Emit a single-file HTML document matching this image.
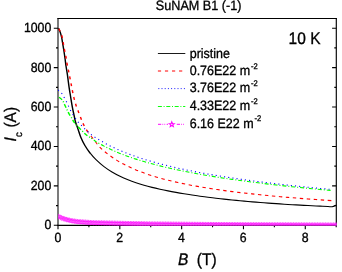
<!DOCTYPE html><html><head><meta charset="utf-8"><style>html,body{margin:0;padding:0;background:#fff;overflow:hidden}body{width:342px;height:272px;position:relative;font-family:"Liberation Sans",sans-serif}</style></head><body><svg width="342" height="272" viewBox="0 0 342 272" style="position:absolute;left:0;top:0;font-family:'Liberation Sans',sans-serif;text-rendering:geometricPrecision;will-change:transform;opacity:0.999">
<rect width="342" height="272" fill="#fff"/>
<defs><clipPath id="cp"><rect x="58.0" y="18" width="279" height="207.75"/></clipPath></defs>
<path d="M57.45 18.50 H336.85" stroke="#000" stroke-width="1.1" fill="none"/>
<path d="M57.45 225.30 H336.85" stroke="#000" stroke-width="1.15" fill="none"/>
<path d="M58.00 18.00 V225.80" stroke="#000" stroke-width="1.04" fill="none"/>
<path d="M336.30 18.00 V225.80" stroke="#000" stroke-width="1.15" fill="none"/>
<path d="M53.80 225.30 h4.20 M332.10 225.30 h4.20 M56.00 205.59 h2.00 M334.30 205.59 h2.00 M53.80 185.88 h4.20 M332.10 185.88 h4.20 M56.00 166.17 h2.00 M334.30 166.17 h2.00 M53.80 146.46 h4.20 M332.10 146.46 h4.20 M56.00 126.75 h2.00 M334.30 126.75 h2.00 M53.80 107.04 h4.20 M332.10 107.04 h4.20 M56.00 87.33 h2.00 M334.30 87.33 h2.00 M53.80 67.62 h4.20 M332.10 67.62 h4.20 M56.00 47.91 h2.00 M334.30 47.91 h2.00 M53.80 28.20 h4.20 M332.10 28.20 h4.20 M58.00 225.30 v4.00 M88.91 225.30 v2.00 M119.82 225.30 v4.00 M150.73 225.30 v2.00 M181.64 225.30 v4.00 M212.55 225.30 v2.00 M243.46 225.30 v4.00 M274.37 225.30 v2.00 M305.28 225.30 v4.00 M336.19 225.30 v2.00" stroke="#000" stroke-width="1.10" fill="none"/>
<g clip-path="url(#cp)" fill="none">
<path d="M58.50 28.40 C58.80 29.07 59.78 30.93 60.30 32.40 C60.82 33.87 61.23 35.52 61.60 37.20 C61.97 38.88 62.15 40.45 62.50 42.50 C62.85 44.55 63.27 46.75 63.70 49.50 C64.13 52.25 64.72 56.25 65.10 59.00 C65.48 61.75 65.62 63.40 66.00 66.00 C66.38 68.60 66.88 71.03 67.40 74.60 C67.92 78.17 68.60 83.92 69.10 87.40 C69.60 90.88 69.85 92.17 70.40 95.50 C70.95 98.83 71.78 104.07 72.40 107.40 C73.02 110.73 73.58 113.07 74.10 115.50 C74.62 117.93 74.88 119.83 75.50 122.00 C76.12 124.17 76.92 125.95 77.80 128.50 C78.68 131.05 79.62 134.47 80.80 137.30 C81.98 140.13 83.33 142.85 84.90 145.50 C86.47 148.15 88.35 150.83 90.20 153.20" stroke="#000" stroke-width="1.43"/>
<path d="M90.20 153.20 C92.05 155.57 93.70 157.49 96.00 159.73 C98.30 161.98 101.33 164.62 104.00 166.67 C106.67 168.72 109.33 170.43 112.00 172.04 C114.67 173.64 117.33 175.02 120.00 176.31 C122.67 177.61 125.33 178.74 128.00 179.81 C130.67 180.87 133.33 181.82 136.00 182.72 C138.67 183.62 141.33 184.44 144.00 185.21 C146.67 185.98 149.33 186.68 152.00 187.35 C154.67 188.03 157.33 188.64 160.00 189.24 C162.67 189.83 165.33 190.38 168.00 190.91 C170.67 191.44 173.33 191.93 176.00 192.41 C178.67 192.89 181.33 193.34 184.00 193.77 C186.67 194.21 189.33 194.62 192.00 195.02 C194.67 195.42 197.33 195.81 200.00 196.17 C202.67 196.54 205.33 196.89 208.00 197.24 C210.67 197.58 213.33 197.90 216.00 198.22 C218.67 198.53 221.33 198.83 224.00 199.12 C226.67 199.42 229.33 199.70 232.00 199.97 C234.67 200.24 237.33 200.50 240.00 200.75 C242.67 201.00 245.33 201.24 248.00 201.48 C250.67 201.71 253.33 201.94 256.00 202.15 C258.67 202.37 261.33 202.58 264.00 202.78 C266.67 202.99 269.33 203.18 272.00 203.37 C274.67 203.56 277.33 203.75 280.00 203.92 C282.67 204.10 285.33 204.27 288.00 204.43 C290.67 204.60 293.33 204.76 296.00 204.91 C298.67 205.07 301.33 205.22 304.00 205.36 C306.67 205.50 309.33 205.64 312.00 205.78 C314.67 205.91 317.33 206.04 320.00 206.17 C322.67 206.29 325.98 206.44 328.00 206.53 C330.02 206.62 330.72 206.95 332.10 206.71 C333.48 206.47 335.60 205.37 336.30 205.10" stroke="#000" stroke-width="1.10"/>
<path d="M58.90 28.80 C59.35 29.83 60.90 32.78 61.60 35.00 C62.30 37.22 62.65 39.78 63.10 42.10 C63.55 44.42 63.85 46.60 64.30 48.90 C64.75 51.20 65.37 53.55 65.80 55.90 C66.23 58.25 66.47 60.62 66.90 63.00 C67.33 65.38 67.92 67.83 68.40 70.20 C68.88 72.57 69.35 74.92 69.80 77.20 C70.25 79.48 70.65 81.58 71.10 83.90 C71.55 86.22 72.02 88.73 72.50 91.10 C72.98 93.47 73.42 95.75 74.00 98.10 C74.58 100.45 75.25 102.90 76.00 105.20 C76.75 107.50 77.63 109.60 78.50 111.90 C79.37 114.20 80.28 116.73 81.20 119.00 C82.12 121.27 82.78 123.20 84.00 125.50 C85.22 127.80 86.87 130.45 88.50 132.80" stroke="#f00" stroke-width="1.43" stroke-dasharray="2.9 4.1" stroke-dashoffset="0.00"/>
<path d="M88.50 132.80 C90.13 135.15 91.88 137.16 93.80 139.60 C95.72 142.04 97.63 145.00 100.00 147.43 C102.37 149.87 105.33 152.18 108.00 154.23 C110.67 156.28 113.33 158.07 116.00 159.75 C118.67 161.43 121.33 162.92 124.00 164.33 C126.67 165.73 129.33 167.00 132.00 168.19 C134.67 169.39 137.33 170.48 140.00 171.52 C142.67 172.55 145.33 173.50 148.00 174.40 C150.67 175.30 153.33 176.14 156.00 176.94 C158.67 177.73 161.33 178.48 164.00 179.19 C166.67 179.90 169.33 180.56 172.00 181.20 C174.67 181.83 177.33 182.43 180.00 183.01 C182.67 183.58 185.33 184.13 188.00 184.65 C190.67 185.17 193.33 185.67 196.00 186.15 C198.67 186.63 201.33 187.08 204.00 187.52 C206.67 187.96 209.33 188.38 212.00 188.79 C214.67 189.20 217.33 189.59 220.00 189.96 C222.67 190.34 225.33 190.70 228.00 191.05 C230.67 191.40 233.33 191.74 236.00 192.07 C238.67 192.40 241.33 192.71 244.00 193.02 C246.67 193.33 249.33 193.62 252.00 193.91 C254.67 194.20 257.33 194.48 260.00 194.75 C262.67 195.03 265.33 195.29 268.00 195.55 C270.67 195.81 273.33 196.06 276.00 196.30 C278.67 196.55 281.33 196.78 284.00 197.02 C286.67 197.25 289.33 197.47 292.00 197.70 C294.67 197.92 297.33 198.13 300.00 198.34 C302.67 198.55 305.33 198.76 308.00 198.96 C310.67 199.17 313.33 199.36 316.00 199.56 C318.67 199.75 321.33 199.94 324.00 200.12 C326.67 200.31 330.58 200.57 332.00 200.67 C333.42 200.77 332.42 200.70 332.50 200.70" stroke="#f00" stroke-width="1.10" stroke-dasharray="3.4 3.6" stroke-dashoffset="2.90"/>
<path d="M58.08 90.04 l0.84 0.71 M61.51 92.96 l0.64 0.89 M63.91 97.07 l0.54 0.96 M66.23 101.25 l0.48 0.99 M68.26 105.63 l0.46 1.00 M70.33 109.97 l0.52 0.97 M72.68 114.11 l0.57 0.94 M75.24 118.07 l0.63 0.90 M77.96 121.86 l0.70 0.85 M81.08 125.19 l0.78 0.77 M84.28 128.42 l0.77 0.78 M87.56 131.54 l0.83 0.72 M91.00 134.40 l0.87 0.67 M94.57 137.01 l0.92 0.61 M98.28 139.34 l0.95 0.56 M102.05 141.53 l0.95 0.55 M105.85 143.67 l0.97 0.53 M109.69 145.69 l0.98 0.49 M113.57 147.59 l1.00 0.47 M117.49 149.38 l1.01 0.44 M121.44 151.08 l1.02 0.42 M125.41 152.69 l1.02 0.40 M129.41 154.23 l1.03 0.38 M133.43 155.69 l1.04 0.37 M137.46 157.08 l1.04 0.35 M141.51 158.41 l1.05 0.33 M145.57 159.68 l1.05 0.32 M149.64 160.90 l1.06 0.31 M153.73 162.07 l1.06 0.29 M157.82 163.19 l1.06 0.28 M161.92 164.27 l1.07 0.27 M166.03 165.31 l1.07 0.26 M170.14 166.31 l1.07 0.25 M174.26 167.27 l1.07 0.25 M178.39 168.20 l1.07 0.24 M182.52 169.10 l1.08 0.23 M186.66 169.97 l1.08 0.22 M190.79 170.82 l1.08 0.21 M194.94 171.63 l1.08 0.21 M199.09 172.42 l1.08 0.20 M203.24 173.19 l1.08 0.20 M207.39 173.94 l1.08 0.19 M211.54 174.66 l1.08 0.19 M215.70 175.36 l1.09 0.18 M219.86 176.05 l1.09 0.18 M224.03 176.71 l1.09 0.17 M228.19 177.36 l1.09 0.17 M232.36 177.99 l1.09 0.16 M236.52 178.61 l1.09 0.16 M240.69 179.21 l1.09 0.15 M244.86 179.80 l1.09 0.15 M249.04 180.37 l1.09 0.15 M253.21 180.93 l1.09 0.14 M257.38 181.47 l1.09 0.14 M261.56 182.01 l1.09 0.14 M265.74 182.53 l1.09 0.13 M269.92 183.04 l1.09 0.13 M274.09 183.54 l1.09 0.13 M278.27 184.03 l1.09 0.13 M282.45 184.51 l1.09 0.12 M286.64 184.98 l1.09 0.12 M290.82 185.44 l1.09 0.12 M295.00 185.89 l1.09 0.12 M299.18 186.33 l1.09 0.11 M303.37 186.77 l1.09 0.11 M307.55 187.20 l1.09 0.11 M311.74 187.61 l1.09 0.11 M315.92 188.02 l1.09 0.11 M320.11 188.43 l1.10 0.10 M324.30 188.82 l1.10 0.10 M328.48 189.21 l1.10 0.10" stroke="#00f" stroke-width="1.10" stroke-linecap="butt"/>
<path d="M59.00 97.20 C59.58 97.72 61.52 98.95 62.50 100.30 C63.48 101.65 64.17 103.77 64.90 105.30 C65.63 106.83 66.25 108.17 66.90 109.50 C67.55 110.83 68.03 111.93 68.80 113.30 C69.57 114.67 70.57 116.15 71.50 117.70 C72.43 119.25 73.33 121.10 74.40 122.60 C75.47 124.10 76.63 125.33 77.90 126.70 C79.17 128.07 80.63 129.47 82.00 130.80 C83.37 132.13 84.63 133.52 86.10 134.70 C87.57 135.88 89.33 136.88 90.80 137.90" stroke="#0f0" stroke-width="1.43" stroke-dasharray="4 2 1 1.9" stroke-dashoffset="0.00"/>
<path d="M90.80 137.90 C92.27 138.92 94.03 140.18 94.90 140.80 C95.77 141.42 94.48 140.73 96.00 141.62 C97.52 142.51 101.33 144.73 104.00 146.13 C106.67 147.53 109.33 148.80 112.00 150.01 C114.67 151.22 117.33 152.34 120.00 153.40 C122.67 154.47 125.33 155.47 128.00 156.42 C130.67 157.37 133.33 158.27 136.00 159.13 C138.67 159.99 141.33 160.80 144.00 161.59 C146.67 162.37 149.33 163.11 152.00 163.83 C154.67 164.55 157.33 165.23 160.00 165.89 C162.67 166.56 165.33 167.19 168.00 167.80 C170.67 168.42 173.33 169.01 176.00 169.58 C178.67 170.15 181.33 170.70 184.00 171.24 C186.67 171.77 189.33 172.29 192.00 172.79 C194.67 173.29 197.33 173.78 200.00 174.25 C202.67 174.73 205.33 175.19 208.00 175.63 C210.67 176.08 213.33 176.51 216.00 176.94 C218.67 177.36 221.33 177.77 224.00 178.18 C226.67 178.58 229.33 178.97 232.00 179.35 C234.67 179.74 237.33 180.11 240.00 180.48 C242.67 180.84 245.33 181.20 248.00 181.55 C250.67 181.90 253.33 182.24 256.00 182.57 C258.67 182.90 261.33 183.23 264.00 183.55 C266.67 183.87 269.33 184.19 272.00 184.49 C274.67 184.80 277.33 185.10 280.00 185.40 C282.67 185.69 285.33 185.98 288.00 186.27 C290.67 186.55 293.33 186.83 296.00 187.11 C298.67 187.38 301.33 187.65 304.00 187.92 C306.67 188.18 309.33 188.44 312.00 188.70 C314.67 188.95 317.33 189.20 320.00 189.45 C322.67 189.70 325.92 189.99 328.00 190.18 C330.08 190.37 331.75 190.51 332.50 190.58" stroke="#0f0" stroke-width="1.10" stroke-dasharray="4 2 1 1.9" stroke-dashoffset="5.60"/>
<path d="M58.50 216.30 C59.08 216.58 60.62 217.47 62.00 218.00 C63.38 218.53 65.13 219.05 66.80 219.50 C68.47 219.95 70.05 220.35 72.00 220.70 C73.95 221.05 74.87 221.27 78.50 221.60 C82.13 221.93 88.55 222.42 93.80 222.65 C99.05 222.88 100.63 222.79 110.00 223.00 C119.37 223.21 135.00 223.68 150.00 223.90 C165.00 224.12 184.17 224.18 200.00 224.30 C215.83 224.43 222.25 224.53 245.00 224.65 C267.75 224.77 321.25 224.94 336.50 225.00" stroke="#f0f" stroke-width="0.6"/>
<g stroke="#f0f" stroke-width="0.55" fill="#fff" fill-opacity="0.22"><polygon points="58.30,213.90 58.92,215.65 60.77,215.70 59.30,216.82 59.83,218.60 58.30,217.55 56.77,218.60 57.30,216.82 55.83,215.70 57.68,215.65"/><polygon points="59.90,214.58 60.52,216.33 62.37,216.38 60.90,217.50 61.43,219.28 59.90,218.23 58.37,219.28 58.90,217.50 57.43,216.38 59.28,216.33"/><polygon points="61.50,215.36 62.12,217.11 63.97,217.15 62.50,218.28 63.03,220.06 61.50,219.01 59.97,220.06 60.50,218.28 59.03,217.15 60.88,217.11"/><polygon points="63.10,215.94 63.72,217.69 65.57,217.74 64.10,218.87 64.63,220.65 63.10,219.59 61.57,220.65 62.10,218.87 60.63,217.74 62.48,217.69"/><polygon points="64.70,216.44 65.32,218.19 67.17,218.24 65.70,219.37 66.23,221.15 64.70,220.09 63.17,221.15 63.70,219.37 62.23,218.24 64.08,218.19"/><polygon points="66.30,216.94 66.92,218.69 68.77,218.74 67.30,219.87 67.83,221.65 66.30,220.59 64.77,221.65 65.30,219.87 63.83,218.74 65.68,218.69"/><polygon points="67.90,217.35 68.52,219.10 70.37,219.15 68.90,220.28 69.43,222.06 67.90,221.00 66.37,222.06 66.90,220.28 65.43,219.15 67.28,219.10"/><polygon points="69.50,217.72 70.12,219.47 71.97,219.52 70.50,220.65 71.03,222.43 69.50,221.37 67.97,222.43 68.50,220.65 67.03,219.52 68.88,219.47"/><polygon points="71.10,218.09 71.72,219.84 73.57,219.89 72.10,221.02 72.63,222.80 71.10,221.74 69.57,222.80 70.10,221.02 68.63,219.89 70.48,219.84"/><polygon points="72.70,218.40 73.32,220.15 75.17,220.19 73.70,221.32 74.23,223.10 72.70,222.05 71.17,223.10 71.70,221.32 70.23,220.19 72.08,220.15"/><polygon points="74.30,218.62 74.92,220.37 76.77,220.42 75.30,221.54 75.83,223.32 74.30,222.27 72.77,223.32 73.30,221.54 71.83,220.42 73.68,220.37"/><polygon points="75.90,218.84 76.52,220.59 78.37,220.64 76.90,221.76 77.43,223.54 75.90,222.49 74.37,223.54 74.90,221.76 73.43,220.64 75.28,220.59"/><polygon points="77.50,219.06 78.12,220.81 79.97,220.86 78.50,221.99 79.03,223.76 77.50,222.71 75.97,223.76 76.50,221.99 75.03,220.86 76.88,220.81"/><polygon points="79.10,219.24 79.72,220.99 81.57,221.04 80.10,222.17 80.63,223.94 79.10,222.89 77.57,223.94 78.10,222.17 76.63,221.04 78.48,220.99"/><polygon points="80.70,219.35 81.32,221.10 83.17,221.15 81.70,222.28 82.23,224.05 80.70,223.00 79.17,224.05 79.70,222.28 78.23,221.15 80.08,221.10"/><polygon points="82.30,219.46 82.92,221.21 84.77,221.26 83.30,222.39 83.83,224.16 82.30,223.11 80.77,224.16 81.30,222.39 79.83,221.26 81.68,221.21"/><polygon points="83.90,219.57 84.52,221.32 86.37,221.37 84.90,222.50 85.43,224.27 83.90,223.22 82.37,224.27 82.90,222.50 81.43,221.37 83.28,221.32"/><polygon points="85.50,219.68 86.12,221.43 87.97,221.48 86.50,222.60 87.03,224.38 85.50,223.33 83.97,224.38 84.50,222.60 83.03,221.48 84.88,221.43"/><polygon points="87.10,219.79 87.72,221.54 89.57,221.59 88.10,222.71 88.63,224.49 87.10,223.44 85.57,224.49 86.10,222.71 84.63,221.59 86.48,221.54"/><polygon points="88.70,219.90 89.32,221.65 91.17,221.70 89.70,222.82 90.23,224.60 88.70,223.55 87.17,224.60 87.70,222.82 86.23,221.70 88.08,221.65"/><polygon points="90.30,220.01 90.92,221.76 92.77,221.81 91.30,222.93 91.83,224.71 90.30,223.66 88.77,224.71 89.30,222.93 87.83,221.81 89.68,221.76"/><polygon points="91.90,220.12 92.52,221.87 94.37,221.92 92.90,223.04 93.43,224.82 91.90,223.77 90.37,224.82 90.90,223.04 89.43,221.92 91.28,221.87"/><polygon points="93.50,220.23 94.12,221.98 95.97,222.03 94.50,223.15 95.03,224.93 93.50,223.88 91.97,224.93 92.50,223.15 91.03,222.03 92.88,221.98"/><polygon points="95.10,220.28 95.72,222.03 97.57,222.07 96.10,223.20 96.63,224.98 95.10,223.93 93.57,224.98 94.10,223.20 92.63,222.07 94.48,222.03"/><polygon points="96.70,220.31 97.32,222.06 99.17,222.11 97.70,223.24 98.23,225.02 96.70,223.96 95.17,225.02 95.70,223.24 94.23,222.11 96.08,222.06"/><polygon points="98.30,220.35 98.92,222.10 100.77,222.14 99.30,223.27 99.83,225.05 98.30,224.00 96.77,225.05 97.30,223.27 95.83,222.14 97.68,222.10"/><polygon points="99.90,220.38 100.52,222.13 102.37,222.18 100.90,223.31 101.43,225.09 99.90,224.03 98.37,225.09 98.90,223.31 97.43,222.18 99.28,222.13"/><polygon points="101.50,220.42 102.12,222.17 103.97,222.21 102.50,223.34 103.03,225.12 101.50,224.07 99.97,225.12 100.50,223.34 99.03,222.21 100.88,222.17"/><polygon points="103.10,220.45 103.72,222.20 105.57,222.25 104.10,223.38 104.63,225.15 103.10,224.10 101.57,225.15 102.10,223.38 100.63,222.25 102.48,222.20"/><polygon points="104.70,220.49 105.32,222.24 107.17,222.28 105.70,223.41 106.23,225.19 104.70,224.14 103.17,225.19 103.70,223.41 102.23,222.28 104.08,222.24"/><polygon points="106.30,220.52 106.92,222.27 108.77,222.32 107.30,223.44 107.83,225.22 106.30,224.17 104.77,225.22 105.30,223.44 103.83,222.32 105.68,222.27"/><polygon points="107.90,220.55 108.52,222.31 110.37,222.35 108.90,223.48 109.43,225.26 107.90,224.20 106.37,225.26 106.90,223.48 105.43,222.35 107.28,222.31"/><polygon points="109.50,220.59 110.12,222.34 111.97,222.39 110.50,223.51 111.03,225.29 109.50,224.24 107.97,225.29 108.50,223.51 107.03,222.39 108.88,222.34"/><polygon points="111.10,220.62 111.72,222.38 113.57,222.42 112.10,223.55 112.63,225.33 111.10,224.27 109.57,225.33 110.10,223.55 108.63,222.42 110.48,222.38"/><polygon points="112.70,220.66 113.32,222.41 115.17,222.46 113.70,223.59 114.23,225.36 112.70,224.31 111.17,225.36 111.70,223.59 110.23,222.46 112.08,222.41"/><polygon points="114.30,220.70 114.92,222.45 116.77,222.49 115.30,223.62 115.83,225.40 114.30,224.35 112.77,225.40 113.30,223.62 111.83,222.49 113.68,222.45"/><polygon points="115.90,220.73 116.52,222.48 118.37,222.53 116.90,223.66 117.43,225.44 115.90,224.38 114.37,225.44 114.90,223.66 113.43,222.53 115.28,222.48"/><polygon points="117.50,220.77 118.12,222.52 119.97,222.57 118.50,223.69 119.03,225.47 117.50,224.42 115.97,225.47 116.50,223.69 115.03,222.57 116.88,222.52"/><polygon points="119.10,220.80 119.72,222.56 121.57,222.60 120.10,223.73 120.63,225.51 119.10,224.45 117.57,225.51 118.10,223.73 116.63,222.60 118.48,222.56"/><polygon points="120.70,220.84 121.32,222.59 123.17,222.64 121.70,223.77 122.23,225.54 120.70,224.49 119.17,225.54 119.70,223.77 118.23,222.64 120.08,222.59"/><polygon points="122.30,220.88 122.92,222.63 124.77,222.67 123.30,223.80 123.83,225.58 122.30,224.53 120.77,225.58 121.30,223.80 119.83,222.67 121.68,222.63"/><polygon points="123.90,220.91 124.52,222.66 126.37,222.71 124.90,223.84 125.43,225.62 123.90,224.56 122.37,225.62 122.90,223.84 121.43,222.71 123.28,222.66"/><polygon points="125.50,220.95 126.12,222.70 127.97,222.75 126.50,223.87 127.03,225.65 125.50,224.60 123.97,225.65 124.50,223.87 123.03,222.75 124.88,222.70"/><polygon points="127.10,220.98 127.72,222.74 129.57,222.78 128.10,223.91 128.63,225.69 127.10,224.63 125.57,225.69 126.10,223.91 124.63,222.78 126.48,222.74"/><polygon points="128.70,221.02 129.32,222.77 131.17,222.82 129.70,223.95 130.23,225.72 128.70,224.67 127.17,225.72 127.70,223.95 126.23,222.82 128.08,222.77"/><polygon points="130.30,221.06 130.92,222.81 132.77,222.85 131.30,223.98 131.83,225.76 130.30,224.71 128.77,225.76 129.30,223.98 127.83,222.85 129.68,222.81"/><polygon points="131.90,221.09 132.52,222.84 134.37,222.89 132.90,224.02 133.43,225.80 131.90,224.74 130.37,225.80 130.90,224.02 129.43,222.89 131.28,222.84"/><polygon points="133.50,221.13 134.12,222.88 135.97,222.93 134.50,224.05 135.03,225.83 133.50,224.78 131.97,225.83 132.50,224.05 131.03,222.93 132.88,222.88"/><polygon points="135.10,221.16 135.72,222.92 137.57,222.96 136.10,224.09 136.63,225.87 135.10,224.81 133.57,225.87 134.10,224.09 132.63,222.96 134.48,222.92"/><polygon points="136.70,221.20 137.32,222.95 139.17,223.00 137.70,224.13 138.23,225.90 136.70,224.85 135.17,225.90 135.70,224.13 134.23,223.00 136.08,222.95"/><polygon points="138.30,221.24 138.92,222.99 140.77,223.03 139.30,224.16 139.83,225.94 138.30,224.89 136.77,225.94 137.30,224.16 135.83,223.03 137.68,222.99"/><polygon points="139.90,221.27 140.52,223.02 142.37,223.07 140.90,224.20 141.43,225.98 139.90,224.92 138.37,225.98 138.90,224.20 137.43,223.07 139.28,223.02"/><polygon points="141.50,221.31 142.12,223.06 143.97,223.11 142.50,224.23 143.03,226.01 141.50,224.96 139.97,226.01 140.50,224.23 139.03,223.11 140.88,223.06"/><polygon points="143.10,221.34 143.72,223.10 145.57,223.14 144.10,224.27 144.63,226.05 143.10,224.99 141.57,226.05 142.10,224.27 140.63,223.14 142.48,223.10"/><polygon points="144.70,221.38 145.32,223.13 147.17,223.18 145.70,224.31 146.23,226.08 144.70,225.03 143.17,226.08 143.70,224.31 142.23,223.18 144.08,223.13"/><polygon points="146.30,221.42 146.92,223.17 148.77,223.21 147.30,224.34 147.83,226.12 146.30,225.07 144.77,226.12 145.30,224.34 143.83,223.21 145.68,223.17"/><polygon points="147.90,221.45 148.52,223.20 150.37,223.25 148.90,224.38 149.43,226.16 147.90,225.10 146.37,226.16 146.90,224.38 145.43,223.25 147.28,223.20"/><polygon points="149.50,221.49 150.12,223.24 151.97,223.29 150.50,224.41 151.03,226.19 149.50,225.14 147.97,226.19 148.50,224.41 147.03,223.29 148.88,223.24"/><polygon points="151.10,221.51 151.72,223.26 153.57,223.31 152.10,224.43 152.63,226.21 151.10,225.16 149.57,226.21 150.10,224.43 148.63,223.31 150.48,223.26"/><polygon points="152.70,221.52 153.32,223.27 155.17,223.32 153.70,224.45 154.23,226.23 152.70,225.17 151.17,226.23 151.70,224.45 150.23,223.32 152.08,223.27"/><polygon points="154.30,221.53 154.92,223.28 156.77,223.33 155.30,224.46 155.83,226.24 154.30,225.18 152.77,226.24 153.30,224.46 151.83,223.33 153.68,223.28"/><polygon points="155.90,221.55 156.52,223.30 158.37,223.34 156.90,224.47 157.43,226.25 155.90,225.20 154.37,226.25 154.90,224.47 153.43,223.34 155.28,223.30"/><polygon points="157.50,221.56 158.12,223.31 159.97,223.36 158.50,224.48 159.03,226.26 157.50,225.21 155.97,226.26 156.50,224.48 155.03,223.36 156.88,223.31"/><polygon points="159.10,221.57 159.72,223.32 161.57,223.37 160.10,224.50 160.63,226.28 159.10,225.22 157.57,226.28 158.10,224.50 156.63,223.37 158.48,223.32"/><polygon points="160.70,221.59 161.32,223.34 163.17,223.38 161.70,224.51 162.23,226.29 160.70,225.24 159.17,226.29 159.70,224.51 158.23,223.38 160.08,223.34"/><polygon points="162.30,221.60 162.92,223.35 164.77,223.39 163.30,224.52 163.83,226.30 162.30,225.25 160.77,226.30 161.30,224.52 159.83,223.39 161.68,223.35"/><polygon points="163.90,221.61 164.52,223.36 166.37,223.41 164.90,224.54 165.43,226.31 163.90,225.26 162.37,226.31 162.90,224.54 161.43,223.41 163.28,223.36"/><polygon points="165.50,221.62 166.12,223.37 167.97,223.42 166.50,224.55 167.03,226.33 165.50,225.27 163.97,226.33 164.50,224.55 163.03,223.42 164.88,223.37"/><polygon points="167.10,221.64 167.72,223.39 169.57,223.43 168.10,224.56 168.63,226.34 167.10,225.29 165.57,226.34 166.10,224.56 164.63,223.43 166.48,223.39"/><polygon points="168.70,221.65 169.32,223.40 171.17,223.45 169.70,224.57 170.23,226.35 168.70,225.30 167.17,226.35 167.70,224.57 166.23,223.45 168.08,223.40"/><polygon points="170.30,221.66 170.92,223.41 172.77,223.46 171.30,224.59 171.83,226.37 170.30,225.31 168.77,226.37 169.30,224.59 167.83,223.46 169.68,223.41"/><polygon points="171.90,221.68 172.52,223.43 174.37,223.47 172.90,224.60 173.43,226.38 171.90,225.33 170.37,226.38 170.90,224.60 169.43,223.47 171.28,223.43"/><polygon points="173.50,221.69 174.12,223.44 175.97,223.48 174.50,224.61 175.03,226.39 173.50,225.34 171.97,226.39 172.50,224.61 171.03,223.48 172.88,223.44"/><polygon points="175.10,221.70 175.72,223.45 177.57,223.50 176.10,224.63 176.63,226.40 175.10,225.35 173.57,226.40 174.10,224.63 172.63,223.50 174.48,223.45"/><polygon points="176.70,221.71 177.32,223.46 179.17,223.51 177.70,224.64 178.23,226.42 176.70,225.36 175.17,226.42 175.70,224.64 174.23,223.51 176.08,223.46"/><polygon points="178.30,221.73 178.92,223.48 180.77,223.52 179.30,224.65 179.83,226.43 178.30,225.38 176.77,226.43 177.30,224.65 175.83,223.52 177.68,223.48"/><polygon points="179.90,221.74 180.52,223.49 182.37,223.54 180.90,224.66 181.43,226.44 179.90,225.39 178.37,226.44 178.90,224.66 177.43,223.54 179.28,223.49"/><polygon points="181.50,221.75 182.12,223.50 183.97,223.55 182.50,224.68 183.03,226.46 181.50,225.40 179.97,226.46 180.50,224.68 179.03,223.55 180.88,223.50"/><polygon points="183.10,221.76 183.72,223.52 185.57,223.56 184.10,224.69 184.63,226.47 183.10,225.41 181.57,226.47 182.10,224.69 180.63,223.56 182.48,223.52"/><polygon points="184.70,221.78 185.32,223.53 187.17,223.57 185.70,224.70 186.23,226.48 184.70,225.43 183.17,226.48 183.70,224.70 182.23,223.57 184.08,223.53"/><polygon points="186.30,221.79 186.92,223.54 188.77,223.59 187.30,224.71 187.83,226.49 186.30,225.44 184.77,226.49 185.30,224.71 183.83,223.59 185.68,223.54"/><polygon points="187.90,221.80 188.52,223.55 190.37,223.60 188.90,224.73 189.43,226.51 187.90,225.45 186.37,226.51 186.90,224.73 185.43,223.60 187.28,223.55"/><polygon points="189.50,221.82 190.12,223.57 191.97,223.61 190.50,224.74 191.03,226.52 189.50,225.47 187.97,226.52 188.50,224.74 187.03,223.61 188.88,223.57"/><polygon points="191.10,221.83 191.72,223.58 193.57,223.63 192.10,224.75 192.63,226.53 191.10,225.48 189.57,226.53 190.10,224.75 188.63,223.63 190.48,223.58"/><polygon points="192.70,221.84 193.32,223.59 195.17,223.64 193.70,224.77 194.23,226.55 192.70,225.49 191.17,226.55 191.70,224.77 190.23,223.64 192.08,223.59"/><polygon points="194.30,221.85 194.92,223.60 196.77,223.65 195.30,224.78 195.83,226.56 194.30,225.50 192.77,226.56 193.30,224.78 191.83,223.65 193.68,223.60"/><polygon points="195.90,221.87 196.52,223.62 198.37,223.66 196.90,224.79 197.43,226.57 195.90,225.52 194.37,226.57 194.90,224.79 193.43,223.66 195.28,223.62"/><polygon points="197.50,221.88 198.12,223.63 199.97,223.68 198.50,224.80 199.03,226.58 197.50,225.53 195.97,226.58 196.50,224.80 195.03,223.68 196.88,223.63"/><polygon points="199.10,221.89 199.72,223.64 201.57,223.69 200.10,224.82 200.63,226.60 199.10,225.54 197.57,226.60 198.10,224.82 196.63,223.69 198.48,223.64"/><polygon points="200.70,221.91 201.32,223.66 203.17,223.70 201.70,224.83 202.23,226.61 200.70,225.56 199.17,226.61 199.70,224.83 198.23,223.70 200.08,223.66"/><polygon points="202.30,221.92 202.92,223.67 204.77,223.71 203.30,224.84 203.83,226.62 202.30,225.57 200.77,226.62 201.30,224.84 199.83,223.71 201.68,223.67"/><polygon points="203.90,221.93 204.52,223.68 206.37,223.73 204.90,224.85 205.43,226.63 203.90,225.58 202.37,226.63 202.90,224.85 201.43,223.73 203.28,223.68"/><polygon points="205.50,221.94 206.12,223.69 207.97,223.74 206.50,224.87 207.03,226.65 205.50,225.59 203.97,226.65 204.50,224.87 203.03,223.74 204.88,223.69"/><polygon points="207.10,221.96 207.72,223.71 209.57,223.75 208.10,224.88 208.63,226.66 207.10,225.61 205.57,226.66 206.10,224.88 204.63,223.75 206.48,223.71"/><polygon points="208.70,221.97 209.32,223.72 211.17,223.76 209.70,224.89 210.23,226.67 208.70,225.62 207.17,226.67 207.70,224.89 206.23,223.76 208.08,223.72"/><polygon points="210.30,221.98 210.92,223.73 212.77,223.78 211.30,224.90 211.83,226.68 210.30,225.63 208.77,226.68 209.30,224.90 207.83,223.78 209.68,223.73"/><polygon points="211.90,221.99 212.52,223.74 214.37,223.79 212.90,224.92 213.43,226.70 211.90,225.64 210.37,226.70 210.90,224.92 209.43,223.79 211.28,223.74"/><polygon points="213.50,222.00 214.12,223.76 215.97,223.80 214.50,224.93 215.03,226.71 213.50,225.66 211.97,226.71 212.50,224.93 211.03,223.80 212.88,223.76"/><polygon points="215.10,222.02 215.72,223.77 217.57,223.81 216.10,224.94 216.63,226.72 215.10,225.67 213.57,226.72 214.10,224.94 212.63,223.81 214.48,223.77"/><polygon points="216.70,222.03 217.32,223.78 219.17,223.83 217.70,224.95 218.23,226.73 216.70,225.68 215.17,226.73 215.70,224.95 214.23,223.83 216.08,223.78"/><polygon points="218.30,222.04 218.92,223.79 220.77,223.84 219.30,224.97 219.83,226.75 218.30,225.69 216.77,226.75 217.30,224.97 215.83,223.84 217.68,223.79"/><polygon points="219.90,222.05 220.52,223.81 222.37,223.85 220.90,224.98 221.43,226.76 219.90,225.70 218.37,226.76 218.90,224.98 217.43,223.85 219.28,223.81"/><polygon points="221.50,222.07 222.12,223.82 223.97,223.86 222.50,224.99 223.03,226.77 221.50,225.72 219.97,226.77 220.50,224.99 219.03,223.86 220.88,223.82"/><polygon points="223.10,222.08 223.72,223.83 225.57,223.88 224.10,225.00 224.63,226.78 223.10,225.73 221.57,226.78 222.10,225.00 220.63,223.88 222.48,223.83"/><polygon points="224.70,222.09 225.32,223.84 227.17,223.89 225.70,225.02 226.23,226.80 224.70,225.74 223.17,226.80 223.70,225.02 222.23,223.89 224.08,223.84"/><polygon points="226.30,222.10 226.92,223.86 228.77,223.90 227.30,225.03 227.83,226.81 226.30,225.75 224.77,226.81 225.30,225.03 223.83,223.90 225.68,223.86"/><polygon points="227.90,222.12 228.52,223.87 230.37,223.91 228.90,225.04 229.43,226.82 227.90,225.77 226.37,226.82 226.90,225.04 225.43,223.91 227.28,223.87"/><polygon points="229.50,222.13 230.12,223.88 231.97,223.93 230.50,225.05 231.03,226.83 229.50,225.78 227.97,226.83 228.50,225.05 227.03,223.93 228.88,223.88"/><polygon points="231.10,222.14 231.72,223.89 233.57,223.94 232.10,225.07 232.63,226.85 231.10,225.79 229.57,226.85 230.10,225.07 228.63,223.94 230.48,223.89"/><polygon points="232.70,222.15 233.32,223.90 235.17,223.95 233.70,225.08 234.23,226.86 232.70,225.80 231.17,226.86 231.70,225.08 230.23,223.95 232.08,223.90"/><polygon points="234.30,222.17 234.92,223.92 236.77,223.96 235.30,225.09 235.83,226.87 234.30,225.82 232.77,226.87 233.30,225.09 231.83,223.96 233.68,223.92"/><polygon points="235.90,222.18 236.52,223.93 238.37,223.98 236.90,225.10 237.43,226.88 235.90,225.83 234.37,226.88 234.90,225.10 233.43,223.98 235.28,223.93"/><polygon points="237.50,222.19 238.12,223.94 239.97,223.99 238.50,225.12 239.03,226.90 237.50,225.84 235.97,226.90 236.50,225.12 235.03,223.99 236.88,223.94"/><polygon points="239.10,222.20 239.72,223.95 241.57,224.00 240.10,225.13 240.63,226.91 239.10,225.85 237.57,226.91 238.10,225.13 236.63,224.00 238.48,223.95"/><polygon points="240.70,222.22 241.32,223.97 243.17,224.01 241.70,225.14 242.23,226.92 240.70,225.87 239.17,226.92 239.70,225.14 238.23,224.01 240.08,223.97"/><polygon points="242.30,222.23 242.92,223.98 244.77,224.03 243.30,225.15 243.83,226.93 242.30,225.88 240.77,226.93 241.30,225.15 239.83,224.03 241.68,223.98"/><polygon points="243.90,222.24 244.52,223.99 246.37,224.04 244.90,225.17 245.43,226.94 243.90,225.89 242.37,226.94 242.90,225.17 241.43,224.04 243.28,223.99"/><polygon points="245.50,222.25 246.12,224.00 247.97,224.05 246.50,225.18 247.03,226.96 245.50,225.90 243.97,226.96 244.50,225.18 243.03,224.05 244.88,224.00"/><polygon points="247.10,222.26 247.72,224.01 249.57,224.05 248.10,225.18 248.63,226.96 247.10,225.91 245.57,226.96 246.10,225.18 244.63,224.05 246.48,224.01"/><polygon points="248.70,222.26 249.32,224.01 251.17,224.06 249.70,225.19 250.23,226.97 248.70,225.91 247.17,226.97 247.70,225.19 246.23,224.06 248.08,224.01"/><polygon points="250.30,222.27 250.92,224.02 252.77,224.07 251.30,225.19 251.83,226.97 250.30,225.92 248.77,226.97 249.30,225.19 247.83,224.07 249.68,224.02"/><polygon points="251.90,222.28 252.52,224.03 254.37,224.07 252.90,225.20 253.43,226.98 251.90,225.93 250.37,226.98 250.90,225.20 249.43,224.07 251.28,224.03"/><polygon points="253.50,222.28 254.12,224.03 255.97,224.08 254.50,225.21 255.03,226.99 253.50,225.93 251.97,226.99 252.50,225.21 251.03,224.08 252.88,224.03"/><polygon points="255.10,222.29 255.72,224.04 257.57,224.09 256.10,225.21 256.63,226.99 255.10,225.94 253.57,226.99 254.10,225.21 252.63,224.09 254.48,224.04"/><polygon points="256.70,222.29 257.32,224.05 259.17,224.09 257.70,225.22 258.23,227.00 256.70,225.94 255.17,227.00 255.70,225.22 254.23,224.09 256.08,224.05"/><polygon points="258.30,222.30 258.92,224.05 260.77,224.10 259.30,225.23 259.83,227.00 258.30,225.95 256.77,227.00 257.30,225.23 255.83,224.10 257.68,224.05"/><polygon points="259.90,222.31 260.52,224.06 262.37,224.10 260.90,225.23 261.43,227.01 259.90,225.96 258.37,227.01 258.90,225.23 257.43,224.10 259.28,224.06"/><polygon points="261.50,222.31 262.12,224.06 263.97,224.11 262.50,225.24 263.03,227.02 261.50,225.96 259.97,227.02 260.50,225.24 259.03,224.11 260.88,224.06"/><polygon points="263.10,222.32 263.72,224.07 265.57,224.12 264.10,225.24 264.63,227.02 263.10,225.97 261.57,227.02 262.10,225.24 260.63,224.12 262.48,224.07"/><polygon points="264.70,222.33 265.32,224.08 267.17,224.12 265.70,225.25 266.23,227.03 264.70,225.98 263.17,227.03 263.70,225.25 262.23,224.12 264.08,224.08"/><polygon points="266.30,222.33 266.92,224.08 268.77,224.13 267.30,225.26 267.83,227.03 266.30,225.98 264.77,227.03 265.30,225.26 263.83,224.13 265.68,224.08"/><polygon points="267.90,222.34 268.52,224.09 270.37,224.13 268.90,225.26 269.43,227.04 267.90,225.99 266.37,227.04 266.90,225.26 265.43,224.13 267.28,224.09"/><polygon points="269.50,222.34 270.12,224.09 271.97,224.14 270.50,225.27 271.03,227.05 269.50,225.99 267.97,227.05 268.50,225.27 267.03,224.14 268.88,224.09"/><polygon points="271.10,222.35 271.72,224.10 273.57,224.15 272.10,225.27 272.63,227.05 271.10,226.00 269.57,227.05 270.10,225.27 268.63,224.15 270.48,224.10"/><polygon points="272.70,222.36 273.32,224.11 275.17,224.15 273.70,225.28 274.23,227.06 272.70,226.01 271.17,227.06 271.70,225.28 270.23,224.15 272.08,224.11"/><polygon points="274.30,222.36 274.92,224.11 276.77,224.16 275.30,225.29 275.83,227.07 274.30,226.01 272.77,227.07 273.30,225.29 271.83,224.16 273.68,224.11"/><polygon points="275.90,222.37 276.52,224.12 278.37,224.16 276.90,225.29 277.43,227.07 275.90,226.02 274.37,227.07 274.90,225.29 273.43,224.16 275.28,224.12"/><polygon points="277.50,222.37 278.12,224.12 279.97,224.17 278.50,225.30 279.03,227.08 277.50,226.02 275.97,227.08 276.50,225.30 275.03,224.17 276.88,224.12"/><polygon points="279.10,222.38 279.72,224.13 281.57,224.18 280.10,225.30 280.63,227.08 279.10,226.03 277.57,227.08 278.10,225.30 276.63,224.18 278.48,224.13"/><polygon points="280.70,222.39 281.32,224.14 283.17,224.18 281.70,225.31 282.23,227.09 280.70,226.04 279.17,227.09 279.70,225.31 278.23,224.18 280.08,224.14"/><polygon points="282.30,222.39 282.92,224.14 284.77,224.19 283.30,225.32 283.83,227.10 282.30,226.04 280.77,227.10 281.30,225.32 279.83,224.19 281.68,224.14"/><polygon points="283.90,222.40 284.52,224.15 286.37,224.20 284.90,225.32 285.43,227.10 283.90,226.05 282.37,227.10 282.90,225.32 281.43,224.20 283.28,224.15"/><polygon points="285.50,222.40 286.12,224.16 287.97,224.20 286.50,225.33 287.03,227.11 285.50,226.05 283.97,227.11 284.50,225.33 283.03,224.20 284.88,224.16"/><polygon points="287.10,222.41 287.72,224.16 289.57,224.21 288.10,225.34 288.63,227.11 287.10,226.06 285.57,227.11 286.10,225.34 284.63,224.21 286.48,224.16"/><polygon points="288.70,222.42 289.32,224.17 291.17,224.21 289.70,225.34 290.23,227.12 288.70,226.07 287.17,227.12 287.70,225.34 286.23,224.21 288.08,224.17"/><polygon points="290.30,222.42 290.92,224.17 292.77,224.22 291.30,225.35 291.83,227.13 290.30,226.07 288.77,227.13 289.30,225.35 287.83,224.22 289.68,224.17"/><polygon points="291.90,222.43 292.52,224.18 294.37,224.23 292.90,225.35 293.43,227.13 291.90,226.08 290.37,227.13 290.90,225.35 289.43,224.23 291.28,224.18"/><polygon points="293.50,222.44 294.12,224.19 295.97,224.23 294.50,225.36 295.03,227.14 293.50,226.09 291.97,227.14 292.50,225.36 291.03,224.23 292.88,224.19"/><polygon points="295.10,222.44 295.72,224.19 297.57,224.24 296.10,225.37 296.63,227.15 295.10,226.09 293.57,227.15 294.10,225.37 292.63,224.24 294.48,224.19"/><polygon points="296.70,222.45 297.32,224.20 299.17,224.24 297.70,225.37 298.23,227.15 296.70,226.10 295.17,227.15 295.70,225.37 294.23,224.24 296.08,224.20"/><polygon points="298.30,222.45 298.92,224.20 300.77,224.25 299.30,225.38 299.83,227.16 298.30,226.10 296.77,227.16 297.30,225.38 295.83,224.25 297.68,224.20"/><polygon points="299.90,222.46 300.52,224.21 302.37,224.26 300.90,225.38 301.43,227.16 299.90,226.11 298.37,227.16 298.90,225.38 297.43,224.26 299.28,224.21"/><polygon points="301.50,222.47 302.12,224.22 303.97,224.26 302.50,225.39 303.03,227.17 301.50,226.12 299.97,227.17 300.50,225.39 299.03,224.26 300.88,224.22"/><polygon points="303.10,222.47 303.72,224.22 305.57,224.27 304.10,225.40 304.63,227.18 303.10,226.12 301.57,227.18 302.10,225.40 300.63,224.27 302.48,224.22"/><polygon points="304.70,222.48 305.32,224.23 307.17,224.27 305.70,225.40 306.23,227.18 304.70,226.13 303.17,227.18 303.70,225.40 302.23,224.27 304.08,224.23"/><polygon points="306.30,222.48 306.92,224.24 308.77,224.28 307.30,225.41 307.83,227.19 306.30,226.13 304.77,227.19 305.30,225.41 303.83,224.28 305.68,224.24"/><polygon points="307.90,222.49 308.52,224.24 310.37,224.29 308.90,225.42 309.43,227.19 307.90,226.14 306.37,227.19 306.90,225.42 305.43,224.29 307.28,224.24"/><polygon points="309.50,222.50 310.12,224.25 311.97,224.29 310.50,225.42 311.03,227.20 309.50,226.15 307.97,227.20 308.50,225.42 307.03,224.29 308.88,224.25"/><polygon points="311.10,222.50 311.72,224.25 313.57,224.30 312.10,225.43 312.63,227.21 311.10,226.15 309.57,227.21 310.10,225.43 308.63,224.30 310.48,224.25"/><polygon points="312.70,222.51 313.32,224.26 315.17,224.31 313.70,225.43 314.23,227.21 312.70,226.16 311.17,227.21 311.70,225.43 310.23,224.31 312.08,224.26"/><polygon points="314.30,222.52 314.92,224.27 316.77,224.31 315.30,225.44 315.83,227.22 314.30,226.17 312.77,227.22 313.30,225.44 311.83,224.31 313.68,224.27"/><polygon points="315.90,222.52 316.52,224.27 318.37,224.32 316.90,225.45 317.43,227.22 315.90,226.17 314.37,227.22 314.90,225.45 313.43,224.32 315.28,224.27"/><polygon points="317.50,222.53 318.12,224.28 319.97,224.32 318.50,225.45 319.03,227.23 317.50,226.18 315.97,227.23 316.50,225.45 315.03,224.32 316.88,224.28"/><polygon points="319.10,222.53 319.72,224.28 321.57,224.33 320.10,225.46 320.63,227.24 319.10,226.18 317.57,227.24 318.10,225.46 316.63,224.33 318.48,224.28"/><polygon points="320.70,222.54 321.32,224.29 323.17,224.34 321.70,225.46 322.23,227.24 320.70,226.19 319.17,227.24 319.70,225.46 318.23,224.34 320.08,224.29"/><polygon points="322.30,222.55 322.92,224.30 324.77,224.34 323.30,225.47 323.83,227.25 322.30,226.20 320.77,227.25 321.30,225.47 319.83,224.34 321.68,224.30"/><polygon points="323.90,222.55 324.52,224.30 326.37,224.35 324.90,225.48 325.43,227.26 323.90,226.20 322.37,227.26 322.90,225.48 321.43,224.35 323.28,224.30"/><polygon points="325.50,222.56 326.12,224.31 327.97,224.35 326.50,225.48 327.03,227.26 325.50,226.21 323.97,227.26 324.50,225.48 323.03,224.35 324.88,224.31"/><polygon points="327.10,222.56 327.72,224.31 329.57,224.36 328.10,225.49 328.63,227.27 327.10,226.21 325.57,227.27 326.10,225.49 324.63,224.36 326.48,224.31"/><polygon points="328.70,222.57 329.32,224.32 331.17,224.37 329.70,225.49 330.23,227.27 328.70,226.22 327.17,227.27 327.70,225.49 326.23,224.37 328.08,224.32"/><polygon points="330.30,222.58 330.92,224.33 332.77,224.37 331.30,225.50 331.83,227.28 330.30,226.23 328.77,227.28 329.30,225.50 327.83,224.37 329.68,224.33"/><polygon points="331.90,222.58 332.52,224.33 334.37,224.38 332.90,225.51 333.43,227.29 331.90,226.23 330.37,227.29 330.90,225.51 329.43,224.38 331.28,224.33"/><polygon points="333.50,222.59 334.12,224.34 335.97,224.39 334.50,225.51 335.03,227.29 333.50,226.24 331.97,227.29 332.50,225.51 331.03,224.39 332.88,224.34"/><polygon points="335.10,222.59 335.72,224.35 337.57,224.39 336.10,225.52 336.63,227.30 335.10,226.24 333.57,227.30 334.10,225.52 332.63,224.39 334.48,224.35"/><polygon points="336.70,222.60 337.32,224.35 339.17,224.40 337.70,225.52 338.23,227.30 336.70,226.25 335.17,227.30 335.70,225.52 334.23,224.40 336.08,224.35"/></g>
</g>
<g fill="none">
<path d="M157.9 53.5 H185.3" stroke="#000" stroke-width="0.9"/>
<path d="M157.9 71.0 H185.3" stroke="#f00" stroke-width="1.0" stroke-dasharray="3.2 3.85"/>
<path d="M158.3 88.6 H185.3" stroke="#00f" stroke-width="0.9" stroke-dasharray="1 2.2"/>
<path d="M157.9 106.5 H185.3" stroke="#0f0" stroke-width="0.95" stroke-dasharray="4 1.7 1 1.7"/>
<path d="M158.0 124.3 H168.0 M176.8 124.3 H185.3" stroke="#f0f" stroke-width="1.0" stroke-dasharray="3.2 1.2 0.8 1.2 0.8 1.5"/>
<polygon points="171.80,121.85 172.45,123.56 174.27,123.65 172.85,124.79 173.33,126.55 171.80,125.55 170.27,126.55 170.75,124.79 169.33,123.65 171.15,123.56" stroke="#f0f" stroke-width="1.1" fill="#fff"/>
</g>
<g fill="#000" stroke="#000" stroke-width="0.30">
<text transform="translate(198.60,10.40) scale(1,1.080)" font-size="12.62px" text-anchor="middle" xml:space="preserve">SuNAM B1 (-1)</text>
<text transform="translate(51.30,229.20) scale(1,1.080)" font-size="12.30px" text-anchor="end" xml:space="preserve">0</text>
<text transform="translate(51.30,189.78) scale(1,1.080)" font-size="12.30px" text-anchor="end" xml:space="preserve">200</text>
<text transform="translate(51.30,150.36) scale(1,1.080)" font-size="12.30px" text-anchor="end" xml:space="preserve">400</text>
<text transform="translate(51.30,110.94) scale(1,1.080)" font-size="12.30px" text-anchor="end" xml:space="preserve">600</text>
<text transform="translate(51.30,71.52) scale(1,1.080)" font-size="12.30px" text-anchor="end" xml:space="preserve">800</text>
<text transform="translate(51.30,32.10) scale(1,1.080)" font-size="12.30px" text-anchor="end" xml:space="preserve">1000</text>
<text transform="translate(57.80,241.70) scale(1,1.080)" font-size="12.30px" text-anchor="middle" xml:space="preserve">0</text>
<text transform="translate(119.62,241.70) scale(1,1.080)" font-size="12.30px" text-anchor="middle" xml:space="preserve">2</text>
<text transform="translate(181.44,241.70) scale(1,1.080)" font-size="12.30px" text-anchor="middle" xml:space="preserve">4</text>
<text transform="translate(243.26,241.70) scale(1,1.080)" font-size="12.30px" text-anchor="middle" xml:space="preserve">6</text>
<text transform="translate(305.08,241.70) scale(1,1.080)" font-size="12.30px" text-anchor="middle" xml:space="preserve">8</text>
<text transform="translate(189.70,57.70) scale(1,1.080)" font-size="12.50px" text-anchor="start" xml:space="preserve">pristine</text>
<text transform="translate(189.70,75.20) scale(1,1.080)" font-size="12.50px" text-anchor="start" xml:space="preserve">0.76E22 m<tspan font-size="7.6px" dy="-6.0" dx="0.9">-2</tspan></text>
<text transform="translate(189.70,92.30) scale(1,1.080)" font-size="12.50px" text-anchor="start" xml:space="preserve">3.76E22 m<tspan font-size="7.6px" dy="-6.0" dx="0.9">-2</tspan></text>
<text transform="translate(189.70,110.10) scale(1,1.080)" font-size="12.50px" text-anchor="start" xml:space="preserve">4.33E22 m<tspan font-size="7.6px" dy="-6.0" dx="0.9">-2</tspan></text>
<text transform="translate(189.70,127.80) scale(1,1.080)" font-size="12.50px" text-anchor="start" xml:space="preserve">6.16 E22 m<tspan font-size="7.6px" dy="-6.0" dx="0.9">-2</tspan></text>
<text transform="translate(288.60,43.70) scale(1,1.080)" font-size="15.50px" text-anchor="start" xml:space="preserve">10 K</text>
<text transform="translate(177.90,265.40) scale(1,1.080)" font-size="15.50px" text-anchor="start" xml:space="preserve"><tspan font-style="italic">B</tspan>  (T)</text>
<text transform="translate(16.00,141.60) rotate(-90) scale(1,1.080)" font-size="15.50px" text-anchor="start" xml:space="preserve"><tspan font-style="italic">I</tspan><tspan font-size="9.6px" dy="5.6" dx="0.3">c</tspan><tspan dy="-5.6" dx="0.3"> (A)</tspan></text>
</g>
</svg></body></html>
